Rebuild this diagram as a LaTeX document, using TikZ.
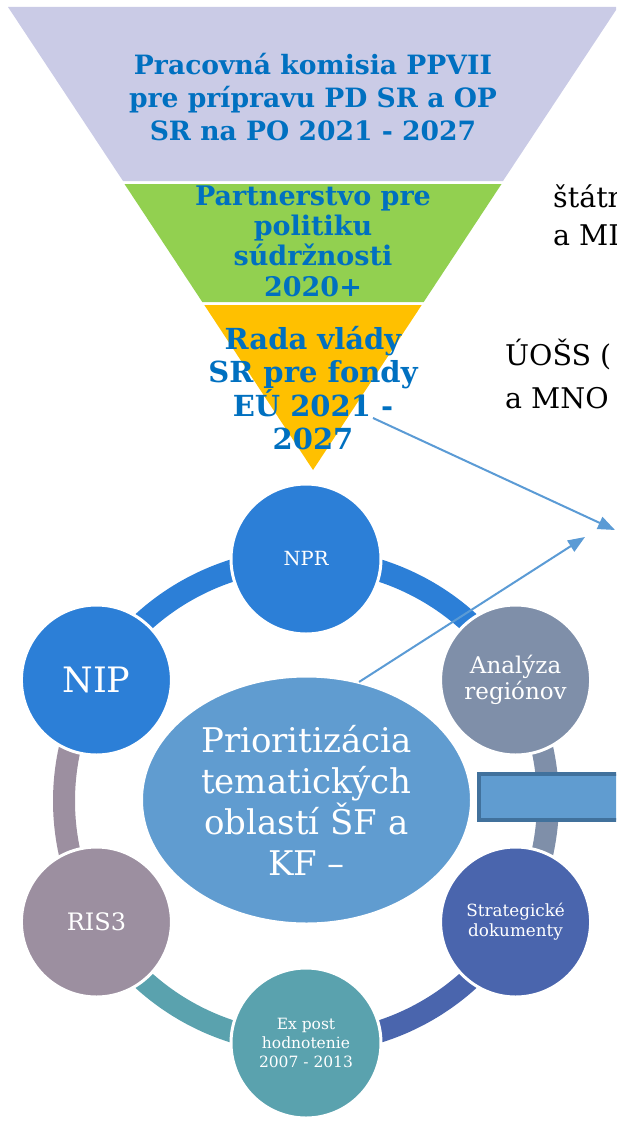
\documentclass[tikz,border=0pt]{standalone}
\usepackage{fontspec}
\setmainfont{DejaVu Serif}
\usetikzlibrary{shapes.geometric,arrows.meta}
\definecolor{lav}{HTML}{CACBE6}
\definecolor{grn}{HTML}{92D050}
\definecolor{yel}{HTML}{FFC000}
\definecolor{ftext}{HTML}{0070C0}
\definecolor{cblue}{HTML}{2C7FD7}
\definecolor{cgray}{HTML}{7F8FA9}
\definecolor{cdark}{HTML}{4A65AD}
\definecolor{cteal}{HTML}{5AA2AE}
\definecolor{cmauve}{HTML}{9C8FA0}
\definecolor{cmid}{HTML}{609CD0}
\definecolor{arrc}{HTML}{5B9BD5}
\definecolor{rectb}{HTML}{41719C}
\tikzset{
  funneltext/.style={align=center, text=ftext, font=\bfseries, inner sep=0pt},
  sidetext/.style={anchor=base west, inner sep=0pt, text=black, font=\fontsize{28.5}{38}\selectfont},
  ringcircle/.style={circle, minimum size=150pt, inner sep=0pt, draw=white, line width=3pt, text=white, align=center},
  arcband/.style={line width=22pt},
  arr/.style={draw=arrc, line width=2pt, -{Triangle[length=17pt,width=13pt]}}
}
\begin{document}
\begin{tikzpicture}[x=1pt,y=1pt]
\useasboundingbox (0,0) rectangle (616,-1124);
\clip (0,0) rectangle (616,-1124);
% funnel
\path[fill=lav] (8,-7) -- (618,-7) -- (503,-181) -- (123,-181) -- cycle;
\path[fill=grn] (124.5,-184) -- (501.5,-184) -- (423.7,-302) -- (202.3,-302) -- cycle;
\path[fill=yel] (204.3,-305) -- (421.7,-305) -- (313,-470) -- cycle;
\node[funneltext, font=\bfseries\fontsize{26.6}{33}\selectfont] (f1) at (313,-97)
  {Pracovná komisia PPVII\\pre prípravu PD SR a OP\\SR na PO 2021 - 2027};
\node[funneltext, font=\bfseries\fontsize{27}{30.3}\selectfont] (f2) at (313,-241)
  {Partnerstvo pre\\politiku\\súdržnosti\\2020+};
\node[funneltext, font=\bfseries\fontsize{29}{32.5}\selectfont] (f3) at (313,-388)
  {Rada vlády\\SR pre fondy\\EÚ 2021 -\\2027};
% side texts
\node[sidetext] (s1) at (553,-207) {štátn};
\node[sidetext] (s2) at (553,-245) {a MI};
\node[sidetext] (s3) at (505,-365) {ÚOŠS (};
\node[sidetext] (s4) at (505,-408) {a MNO};
% ring
\coordinate (ring) at (306,-801);
\draw[arcband, cblue] ([shift={(150:242)}]ring) arc[start angle=150, end angle=90, radius=242];
\draw[arcband, cblue] ([shift={(90:242)}]ring) arc[start angle=90, end angle=30, radius=242];
\draw[arcband, cgray] ([shift={(30:242)}]ring) arc[start angle=30, end angle=-30, radius=242];
\draw[arcband, cdark] ([shift={(-30:242)}]ring) arc[start angle=-30, end angle=-90, radius=242];
\draw[arcband, cteal] ([shift={(-90:242)}]ring) arc[start angle=-90, end angle=-150, radius=242];
\draw[arcband, cmauve] ([shift={(-150:242)}]ring) arc[start angle=-150, end angle=-210, radius=242];
\node[ringcircle, fill=cblue, font=\fontsize{19.5}{22}\selectfont] (npr) at ([shift={(90:242)}]ring) {NPR};
\node[ringcircle, fill=cgray, font=\fontsize{23}{26.5}\selectfont] (anal) at ([shift={(30:242)}]ring) {Analýza\\regiónov};
\node[ringcircle, fill=cdark, font=\fontsize{16.8}{20}\selectfont] (strat) at ([shift={(-30:242)}]ring) {Strategické\\dokumenty};
\node[ringcircle, fill=cteal, font=\fontsize{15.5}{19}\selectfont] (expost) at ([shift={(-90:242)}]ring) {Ex post\\hodnotenie\\2007 - 2013};
\node[ringcircle, fill=cmauve, font=\fontsize{24}{28}\selectfont] (ris) at ([shift={(-150:242)}]ring) {RIS3};
\node[ringcircle, fill=cblue, font=\fontsize{35}{40}\selectfont] (nip) at ([shift={(150:242)}]ring) {NIP};
% centre
\node[ellipse, minimum width=329pt, minimum height=247pt, inner sep=0pt, fill=cmid, draw=white, line width=2pt,
      text=white, align=center, font=\fontsize{34}{41}\selectfont] (cen) at (306.5,-800)
  {Prioritizácia\\tematických\\oblastí ŠF a\\KF –};
% rectangle
\node[draw=rectb, fill=cmid, line width=4pt, minimum width=160pt, minimum height=46pt, anchor=north west, inner sep=0pt] (box) at (477,-772) {};
% arrows
\coordinate (a1s) at (373,-418);
\coordinate (a1e) at (615,-530);
\coordinate (a2e) at (585,-537);
\draw[arr] (a1s) -- (a1e);
\draw[arr] (cen.66) -- (a2e);
\end{tikzpicture}
\end{document}
